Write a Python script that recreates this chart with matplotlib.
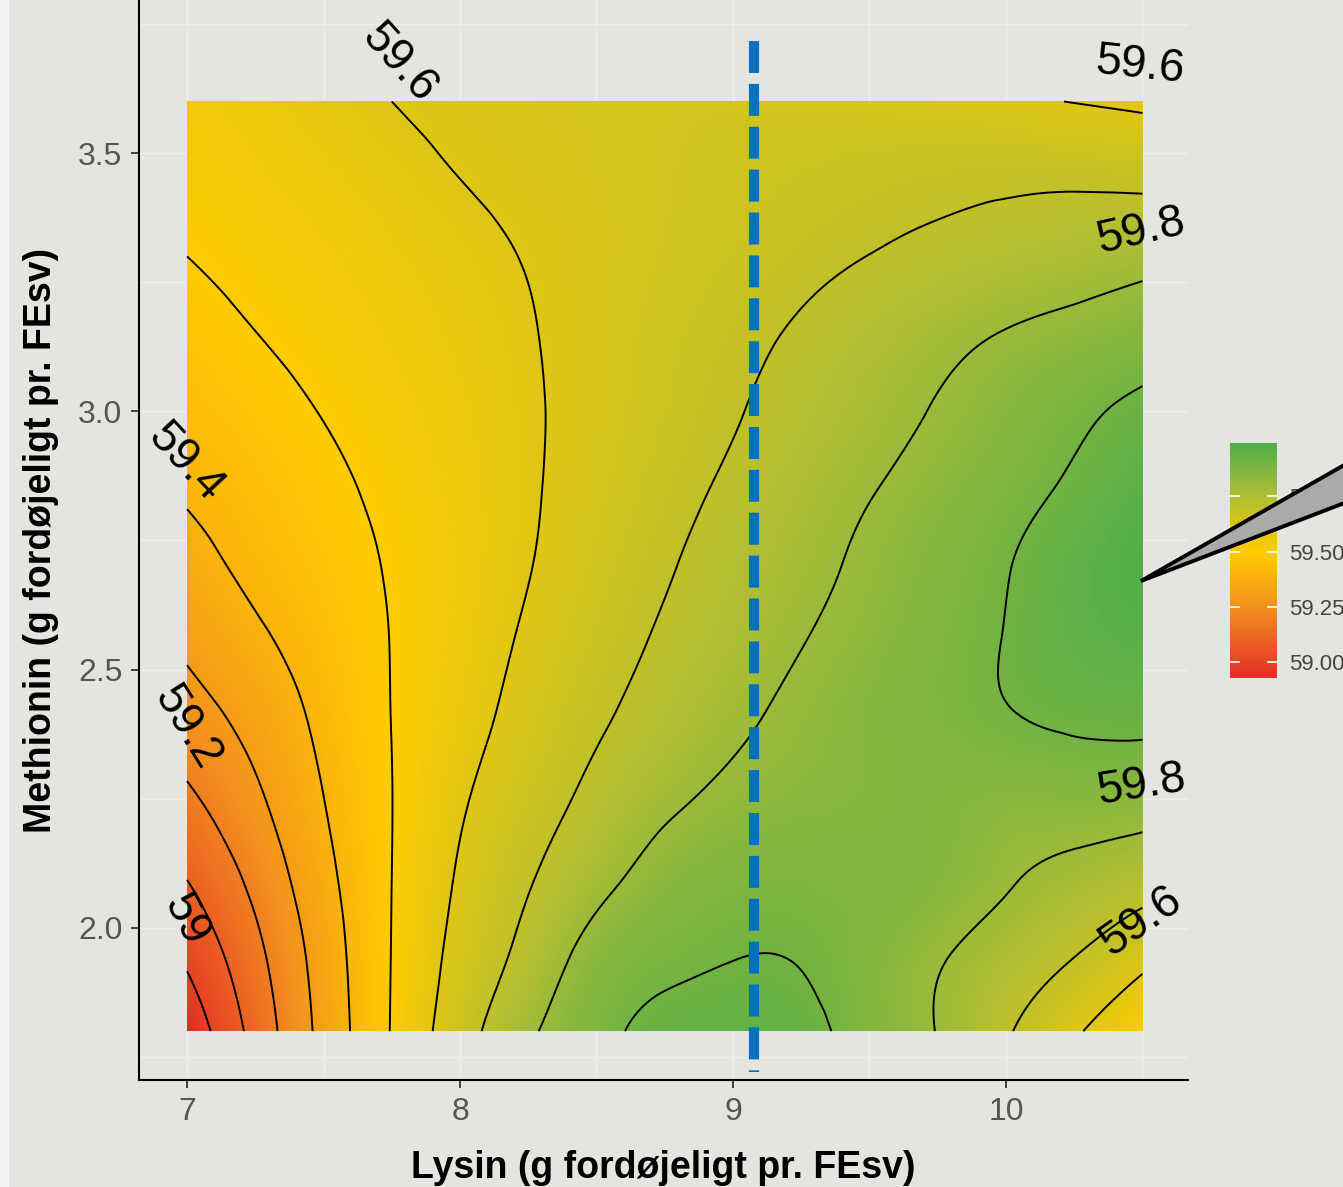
import numpy as np
import matplotlib
matplotlib.use("Agg")
import matplotlib.pyplot as plt
import matplotlib.tri as mtri
from matplotlib.colors import LinearSegmentedColormap, Normalize
from matplotlib.cm import ScalarMappable
from matplotlib.patches import Polygon, Rectangle

plt.rcParams['font.family'] = ['Liberation Sans', 'DejaVu Sans']

# ---------------- data ----------------
lysin = [7.0, 7.25, 7.5, 7.75, 8.0, 8.25, 8.5, 8.75, 9.0, 9.25, 9.5, 9.75, 10.0, 10.25, 10.5]
methionin = [1.8, 1.95, 2.1, 2.25, 2.4, 2.55, 2.7, 2.85, 3.0, 3.15, 3.3, 3.45, 3.6]

# response value, one row per methionin level (bottom to top), one column per lysin level
row_180 = [58.93, 59.134, 59.330, 59.505, 59.657, 59.784, 59.872, 59.925, 59.935, 59.925, 59.862, 59.797, 59.710, 59.613, 59.515]
row_195 = [59.02, 59.175, 59.345, 59.502, 59.628, 59.730, 59.835, 59.880, 59.897, 59.895, 59.860, 59.810, 59.759, 59.704, 59.631]
row_210 = [59.104, 59.228, 59.372, 59.500, 59.609, 59.692, 59.769, 59.835, 59.865, 59.870, 59.865, 59.850, 59.810, 59.776, 59.744]
row_225 = [59.183, 59.283, 59.399, 59.499, 59.589, 59.659, 59.723, 59.781, 59.820, 59.840, 59.850, 59.855, 59.844, 59.847, 59.840]
row_240 = [59.254, 59.332, 59.421, 59.501, 59.569, 59.631, 59.689, 59.738, 59.785, 59.820, 59.850, 59.870, 59.893, 59.910, 59.915]
row_255 = [59.316, 59.381, 59.443, 59.502, 59.557, 59.612, 59.664, 59.712, 59.755, 59.798, 59.834, 59.869, 59.903, 59.940, 59.958]
row_270 = [59.367, 59.421, 59.464, 59.507, 59.552, 59.597, 59.645, 59.692, 59.735, 59.776, 59.817, 59.857, 59.896, 59.945, 59.975]
row_285 = [59.410, 59.446, 59.482, 59.518, 59.555, 59.592, 59.633, 59.674, 59.714, 59.755, 59.795, 59.834, 59.872, 59.913, 59.958]
row_300 = [59.440, 59.471, 59.503, 59.533, 59.562, 59.592, 59.625, 59.660, 59.694, 59.731, 59.768, 59.806, 59.844, 59.883, 59.918]
row_315 = [59.470, 59.499, 59.524, 59.548, 59.572, 59.596, 59.624, 59.652, 59.680, 59.709, 59.741, 59.773, 59.804, 59.828, 59.853]
row_330 = [59.500, 59.521, 59.541, 59.562, 59.583, 59.603, 59.623, 59.643, 59.662, 59.682, 59.701, 59.720, 59.738, 59.756, 59.774]
row_345 = [59.520, 59.540, 59.560, 59.580, 59.600, 59.615, 59.628, 59.640, 59.652, 59.663, 59.672, 59.680, 59.687, 59.688, 59.682]
row_360 = [59.535, 59.557, 59.579, 59.600, 59.615, 59.625, 59.633, 59.638, 59.640, 59.638, 59.633, 59.625, 59.612, 59.598, 59.585]

contour_levels = [59.0, 59.1, 59.2, 59.3, 59.4, 59.5, 59.6, 59.7, 59.8, 59.9]
cbar_ticks = [59.0, 59.25, 59.5, 59.75]
cbar_ticklabels = ["59.00", "59.25", "59.50", "59.75"]
value_range = (58.93, 59.99)
x_ticks = [7, 8, 9, 10]
y_ticks = [2.0, 2.5, 3.0, 3.5]
y_ticklabels = ["2.0", "2.5", "3.0", "3.5"]
ref_lysin = 9.077
ref_span = (3.718, 1.72)

# contour labels: text, x, y, rotation
contour_labels = [
    ("59.6", 7.777, 3.675, -48),
    ("59.6", 10.491, 3.670, -6),
    ("59.8", 10.495, 3.348, 13),
    ("59.4", 6.993, 2.901, -47),
    ("59.2", 7.000, 2.388, -58),
    ("59",   6.995, 2.015, -62),
    ("59.8", 10.495, 2.277, 9),
    ("59.6", 10.495, 2.012, 35),
]

xlabel = "Lysin (g fordøjeligt pr. FEsv)"
ylabel = "Methionin (g fordøjeligt pr. FEsv)"

# ---------------- build field ----------------
Z = np.array([row_180, row_195, row_210, row_225, row_240, row_255, row_270,
              row_285, row_300, row_315, row_330, row_345, row_360])
xs = np.array(lysin)
ys = np.array(methionin)
XX, YY = np.meshgrid(xs, ys)
nx, ny = len(xs), len(ys)
tris = []
for j in range(ny - 1):
    for i in range(nx - 1):
        a = j * nx + i
        b = a + 1
        c = a + nx
        d = c + 1
        tris.append([a, b, d])
        tris.append([a, d, c])
triang = mtri.Triangulation(XX.ravel(), YY.ravel(), np.array(tris))
interp = mtri.CubicTriInterpolator(triang, Z.ravel(), kind='min_E')
eps = 1e-7
xi = np.linspace(xs[0] + eps, xs[-1] - eps, 421)
yi = np.linspace(ys[0] + eps, ys[-1] - eps, 217)
Xi, Yi = np.meshgrid(xi, yi)
Zi = np.ma.filled(interp(Xi, Yi), np.nan)

# ---------------- colours ----------------
cmap = LinearSegmentedColormap.from_list(
    "ryg",
    [(0.0, "#E42D26"), (0.302, "#F4901F"), (0.538, "#FFCC00"),
     (0.774, "#B0BE34"), (1.0, "#4EAE4A")])
norm = Normalize(vmin=value_range[0], vmax=value_range[1])

bg = "#E5E5E0"
W, H = 1343, 1187
fig = plt.figure(figsize=(W / 100, H / 100), dpi=100, facecolor=bg)
fig.add_artist(Rectangle((0, 0), 9 / W, 1, transform=fig.transFigure,
                         facecolor="#F2F2F0", edgecolor="none", zorder=0))

ax = fig.add_axes([139 / W, 107 / H, (1188 - 139) / W, 1080 / H])
ax.set_facecolor(bg)
ax.set_xlim(6.824, 10.667)
ax.set_ylim(1.7054, 3.7965)

# grid
for gx in [7, 7.5, 8, 8.5, 9, 9.5, 10, 10.5]:
    ax.axvline(gx, color="#EEEEEB", lw=1.0, zorder=0)
for gy in [1.75, 2.0, 2.25, 2.5, 2.75, 3.0, 3.25, 3.5, 3.75]:
    ax.axhline(gy, color="#EEEEEB", lw=1.0, zorder=0)

ax.imshow(Zi, extent=(xs[0], xs[-1], ys[0], ys[-1]), origin='lower',
          cmap=cmap, norm=norm, aspect='auto', interpolation='bilinear', zorder=1)
ax.contour(Xi, Yi, Zi, levels=contour_levels, colors='black', linewidths=1.4, zorder=2)

for txt, lx, ly, rot in contour_labels:
    ax.text(lx, ly, txt, fontsize=33, rotation=rot, ha='center', va='center',
            rotation_mode='anchor', color='black', zorder=4)

ax.plot([ref_lysin, ref_lysin], list(ref_span), color="#0070C0", lw=7.3,
        linestyle=(0, (3.15, 1.08)), dash_capstyle='butt', zorder=5)

for s in ['top', 'right']:
    ax.spines[s].set_visible(False)
for s in ['left', 'bottom']:
    ax.spines[s].set_linewidth(1.5)
    ax.spines[s].set_color('black')

ax.set_xticks(x_ticks)
ax.set_xticklabels([str(t) for t in x_ticks])
ax.set_yticks(y_ticks)
ax.set_yticklabels(y_ticklabels)
ax.tick_params(axis='both', length=6, width=1.3, color='#333333',
               labelsize=23, labelcolor='#555555', pad=6)
ax.set_xlabel(xlabel, fontsize=27, fontweight='bold', labelpad=17)
ax.set_ylabel(ylabel, fontsize=27, fontweight='bold', labelpad=14)

# colourbar
cax = fig.add_axes([1230 / W, (H - 678) / H, 47 / W, 235 / H])
sm = ScalarMappable(norm=norm, cmap=cmap)
cb = fig.colorbar(sm, cax=cax, ticks=cbar_ticks)
cb.ax.set_yticklabels(cbar_ticklabels)
cb.outline.set_visible(False)
cax.tick_params(length=0, pad=9, labelsize=16, labelcolor='#444444')
for t in cbar_ticks:
    cax.plot([0, 0.2], [t, t], color='white', lw=1.2)
    cax.plot([0.8, 1.0], [t, t], color='white', lw=1.2)
cax.set_xlim(0, 1)

# callout wedge
pts = [(1141, 581), (1360, 456), (1360, 497)]
wedge = Polygon([(px / W, 1 - py / H) for px, py in pts], closed=True,
                transform=fig.transFigure, facecolor="#AAAAAA", edgecolor="black",
                lw=2.8, joinstyle='miter', zorder=10, clip_on=False)
fig.add_artist(wedge)

fig.savefig("out.png", dpi=100, facecolor=bg)
